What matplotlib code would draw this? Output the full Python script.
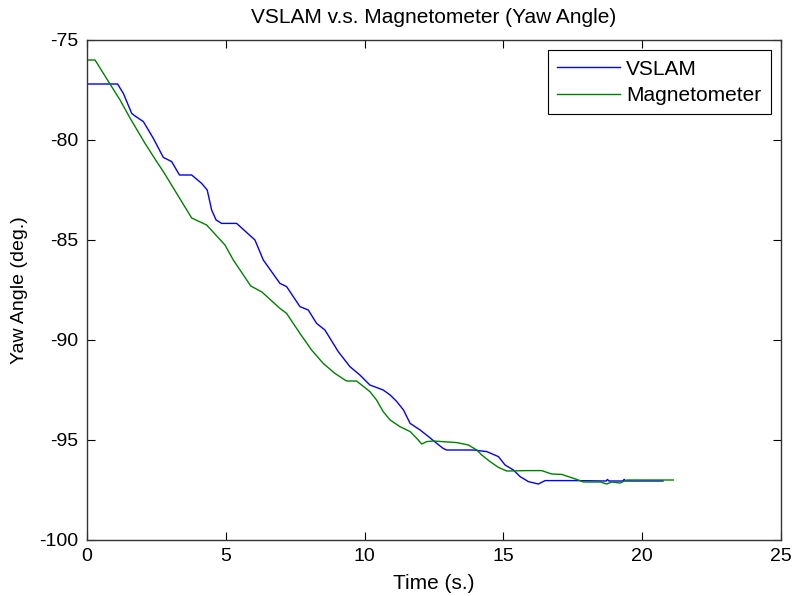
import matplotlib
matplotlib.use("Agg")
import matplotlib.pyplot as plt

# Yaw angle estimates over time
vslam_t = [0.0, 1.1, 1.31, 1.61, 1.73, 2.03, 2.39, 2.75, 3.05, 3.33, 3.77, 4.13, 4.33,
           4.49, 4.65, 4.85, 5.39, 6.05, 6.35, 6.95, 7.19, 7.67, 7.97, 8.27, 8.57,
           9.05, 9.47, 9.83, 10.19, 10.67, 10.92, 11.16, 11.4, 11.64, 12.0, 12.3,
           12.6, 12.83, 12.95, 13.92, 14.4, 14.82, 15.06, 15.36, 15.6, 15.9, 16.26,
           16.5, 17.64, 18.7, 18.75, 18.8, 19.3, 19.35, 19.4, 20.75]
vslam_yaw = [-77.2, -77.2, -77.67, -78.67, -78.8, -79.08, -79.92, -80.87, -81.08,
             -81.75, -81.75, -82.17, -82.5, -83.5, -84.0, -84.17, -84.17, -85.0,
             -86.0, -87.17, -87.33, -88.33, -88.5, -89.17, -89.5, -90.58, -91.33,
             -91.75, -92.25, -92.5, -92.75, -93.08, -93.5, -94.17, -94.5, -94.83,
             -95.17, -95.42, -95.5, -95.5, -95.58, -95.83, -96.25, -96.5, -96.83,
             -97.08, -97.2, -97.03, -97.03, -97.05, -96.97, -97.05, -97.05, -96.97,
             -97.05, -97.05]

mag_t = [0.0, 0.29, 0.59, 1.19, 1.55, 2.09, 2.51, 2.75, 3.23, 3.77, 4.31, 4.97, 5.27,
         5.9, 6.3, 6.95, 7.19, 7.67, 8.09, 8.51, 8.93, 9.35, 9.71, 10.19, 10.43,
         10.67, 10.92, 11.27, 11.64, 11.88, 12.06, 12.24, 12.48, 13.32, 13.74,
         14.04, 14.22, 14.52, 14.82, 15.12, 15.83, 16.38, 16.74, 17.1, 17.64,
         17.88, 18.5, 18.72, 18.9, 19.2, 19.45, 21.12]
mag_yaw = [-76.0, -76.0, -76.67, -78.0, -78.9, -80.17, -81.08, -81.58, -82.67, -83.9,
           -84.25, -85.25, -86.0, -87.3, -87.6, -88.42, -88.67, -89.67, -90.5,
           -91.17, -91.67, -92.05, -92.05, -92.58, -93.0, -93.58, -94.0, -94.33,
           -94.58, -94.92, -95.2, -95.08, -95.05, -95.13, -95.25, -95.5, -95.75,
           -96.08, -96.37, -96.55, -96.53, -96.53, -96.7, -96.72, -96.97, -97.1,
           -97.1, -97.2, -97.1, -97.15, -97.0, -97.0]

x_ticks = [0, 5, 10, 15, 20, 25]
y_ticks = [-100, -95, -90, -85, -80, -75]

plt.rcParams["font.family"] = ["Liberation Sans", "DejaVu Sans"]
plt.rcParams["axes.unicode_minus"] = False

fig = plt.figure(figsize=(7.94, 5.96), dpi=100)
ax = fig.add_axes([87 / 794, 1 - 540 / 596, (781 - 87) / 794, (540 - 40) / 596])

ax.plot(vslam_t, vslam_yaw, color=(0, 0, 1), lw=1.0, label="VSLAM")
ax.plot(mag_t, mag_yaw, color=(0, 0.5, 0), lw=1.0, label="Magnetometer")

ax.set_xlim(0, 25)
ax.set_ylim(-100, -75)
ax.set_xticks(x_ticks)
ax.set_yticks(y_ticks)
ax.tick_params(direction="in", top=True, right=True, length=6, width=0.8,
               labelsize=14, pad=6, colors="black")
for s in ax.spines.values():
    s.set_linewidth(1.0)
    s.set_color("#333333")

ax.set_xlabel("Time (s.)", fontsize=15, labelpad=6)
ax.set_ylabel("Yaw Angle (deg.)", fontsize=14, labelpad=8)
ax.set_title("VSLAM v.s. Magnetometer (Yaw Angle)", fontsize=15, pad=12)

leg = ax.legend(loc="upper right", fontsize=15, fancybox=False, framealpha=1,
                edgecolor="black", handlelength=3.0, handletextpad=0.3,
                borderaxespad=0.5, borderpad=0.45, labelspacing=0.35)
leg.get_frame().set_linewidth(0.8)

fig.savefig("out.png", dpi=100, facecolor="white")
